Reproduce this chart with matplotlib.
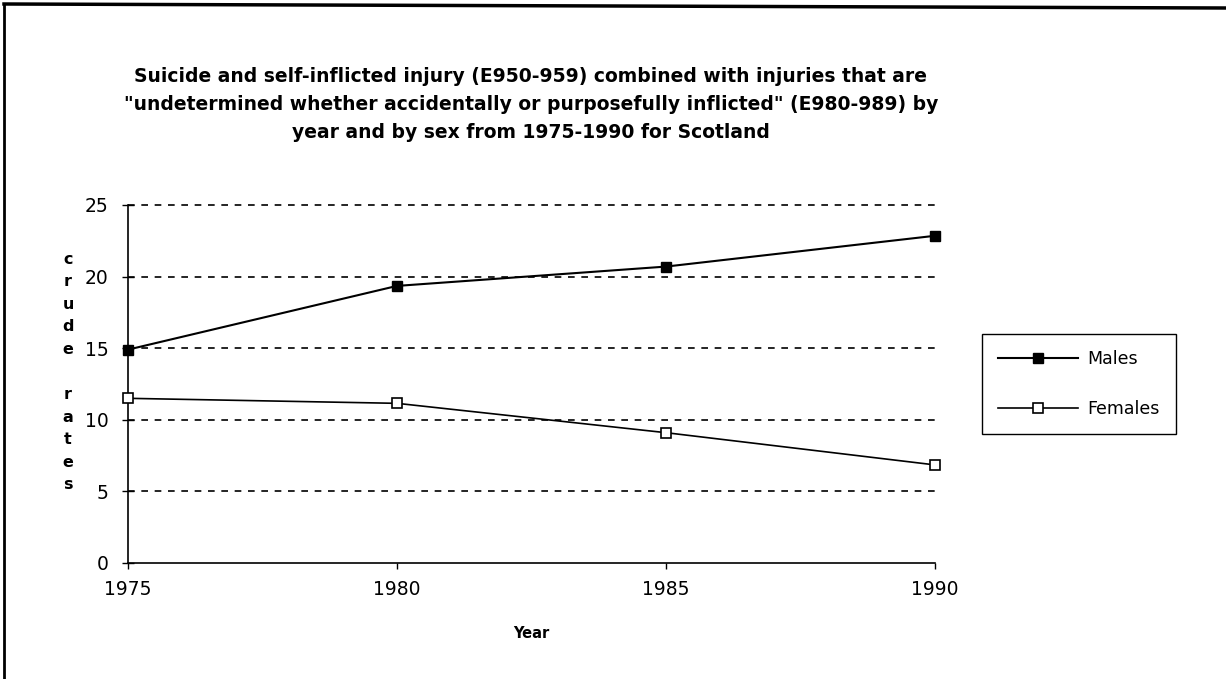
import matplotlib
matplotlib.use("Agg")
import matplotlib.pyplot as plt
from matplotlib.lines import Line2D

years = [1975, 1980, 1985, 1990]
males = [14.9, 19.35, 20.7, 22.85]
females = [11.5, 11.15, 9.1, 6.85]
yticks = [0, 5, 10, 15, 20, 25]
title = ("Suicide and self-inflicted injury (E950-959) combined with injuries that are\n"
         "\"undetermined whether accidentally or purposefully inflicted\" (E980-989) by\n"
         "year and by sex from 1975-1990 for Scotland")

plt.rcParams['font.family'] = ['DejaVu Sans']

W, H = 1226, 679
fig = plt.figure(figsize=(W / 100, H / 100), dpi=100)
fig.patch.set_facecolor('white')

ax = fig.add_axes([128 / W, 1 - 563 / H, (935 - 128) / W, (563 - 205) / H])
ax.set_xlim(1975, 1990)
ax.set_ylim(0, 25)

for v in yticks[1:]:
    ax.axhline(v, color='black', lw=1.2, ls=(0, (4, 4)), zorder=1, clip_on=False)

ax.plot(years, males, color='black', lw=1.5, marker='s', ms=7,
        mfc='black', mec='black', label='Males', zorder=3, clip_on=False)
ax.plot(years, females, color='black', lw=1.2, marker='s', ms=7,
        mfc='white', mec='black', mew=1.2, label='Females', zorder=3, clip_on=False)

ax.set_xticks(years)
ax.set_yticks(yticks)
ax.tick_params(axis='both', labelsize=13.5, width=1)
ax.tick_params(axis='y', direction='inout', length=8, pad=10)
ax.tick_params(axis='x', direction='out', length=4, pad=8)
for s in ['top', 'right']:
    ax.spines[s].set_visible(False)
for s in ['left', 'bottom']:
    ax.spines[s].set_linewidth(1.2)

fig.text(531 / W, 1 - 633 / H, 'Year', ha='center', va='center',
         fontsize=10.5, fontweight='bold')

fig.text(68 / W, 1 - 372 / H, "c\nr\nu\nd\ne\n\nr\na\nt\ne\ns", ha='center', va='center',
         fontsize=11.5, fontweight='bold', linespacing=1.63)

fig.text(531 / W, 1 - 105 / H, title, ha='center', va='center',
         fontsize=13.5, fontweight='bold', linespacing=1.6)

leg = fig.legend(loc='upper left', bbox_to_anchor=(982 / W, 1 - 334 / H),
                 fontsize=12.5, handlelength=4.6, labelspacing=1.8,
                 borderpad=0.95, handletextpad=0.5, fancybox=False, framealpha=1,
                 edgecolor='black', borderaxespad=0)
leg.get_frame().set_linewidth(1.0)

# outer border (left and top edges)
fig.add_artist(Line2D([4 / W, 4 / W], [0, 1 - 4 / H], transform=fig.transFigure,
                      color='black', lw=2))
fig.add_artist(Line2D([4 / W, 1], [1 - 4 / H, 1 - 8 / H], transform=fig.transFigure,
                      color='black', lw=2.5))

fig.savefig('out.png', dpi=100, facecolor='white')
